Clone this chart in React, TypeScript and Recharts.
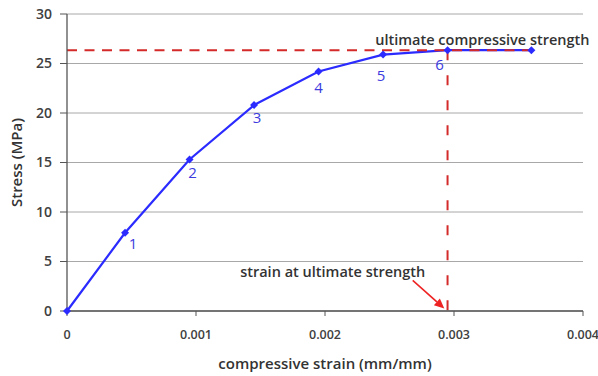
import React from 'react';
import { LineChart, Line, XAxis, YAxis, CartesianGrid, ReferenceLine, ReferenceDot, Label, LabelList } from 'recharts';

const strain = [0, 0.00045, 0.00095, 0.00145, 0.00195, 0.00245, 0.00295, 0.0036];
const stress = [0, 7.9, 15.3, 20.8, 24.2, 25.9, 26.35, 26.35];
const pointLabels = ['', '1', '2', '3', '4', '5', '6', ''];
const xTicks = [0, 0.001, 0.002, 0.003, 0.004];
const yTicks = [0, 5, 10, 15, 20, 25, 30];
const ultimateStress = 26.35;
const ultimateStrain = 0.00295;
const lastStrain = 0.0036;
const arrowFrom = { x: 0.00268, y: 3.1 };
const arrowTo = { x: 0.002925, y: 0.25 };
const topNote = { x: 0.00322, y: 27.45, text: 'ultimate compressive strength' };
const bottomNote = { x: 0.00206, y: 4.0, text: 'strain at ultimate strength' };

// styling: label offsets (px) per point
const labelOffsets = [[0, 0], [8, 10], [3, 12], [3, 12], [0, 16], [-2, 20], [-8, 14], [0, 0]];

const data = strain.map((s, i) => ({ strain: s, stress: stress[i], label: pointLabels[i] }));

const FONT = '"Open Sans", sans-serif';
const BLUE = '#2b2bff';
const RED = '#d42a2a';
const TEXT = '#404040';

const Diamond = (props: any) => {
  const { cx, cy } = props;
  if (cx == null || cy == null) return null;
  const r = 4;
  return <polygon points={`${cx},${cy - r} ${cx + r},${cy} ${cx},${cy + r} ${cx - r},${cy}`} fill={BLUE} />;
};

const PointLabel = (props: any) => {
  const { x, y, value, index } = props;
  if (!value) return null;
  const [dx, dy] = labelOffsets[index] || [0, 0];
  return (
    <text x={x + dx} y={y + dy} textAnchor="middle" dominantBaseline="central" fill="#3b3bde" fontSize={15} fontFamily={FONT}>
      {value}
    </text>
  );
};

const Arrow = (props: any) => {
  const { x1, y1, x2, y2 } = props;
  if ([x1, y1, x2, y2].some((v) => v == null)) return null;
  const ang = Math.atan2(y2 - y1, x2 - x1);
  const L = 10;
  const W = 4.5;
  const bx = x2 - L * Math.cos(ang);
  const by = y2 - L * Math.sin(ang);
  const px = -Math.sin(ang) * W;
  const py = Math.cos(ang) * W;
  return (
    <g>
      <line x1={x1} y1={y1} x2={bx} y2={by} stroke="#ee2222" strokeWidth={1.6} />
      <polygon points={`${x2},${y2} ${bx + px},${by + py} ${bx - px},${by - py}`} fill="#ee2222" />
    </g>
  );
};

const NoteText = (text: string) => (props: any) => {
  const vb = props.viewBox || {};
  const x = vb.x + (vb.width || 0) / 2;
  const y = vb.y + (vb.height || 0) / 2;
  return (
    <text x={x} y={y} textAnchor="middle" dominantBaseline="central" fill="#333" fontSize={14.5} fontWeight={600} fontFamily={FONT}>
      {text}
    </text>
  );
};

export default function App() {
  return (
    <div style={{ position: 'absolute', left: 0, top: 0, background: '#fff' }}>
      <LineChart width={598} height={376} data={data} margin={{ top: 14, right: 15, bottom: 35, left: 0 }}>
        <CartesianGrid horizontal vertical={false} stroke="#a8a8a8" strokeWidth={1} />
        <XAxis
          dataKey="strain"
          type="number"
          domain={[0, 0.004]}
          ticks={xTicks}
          tickFormatter={(v: number) => (v === 0 ? '0' : v.toFixed(3))}
          stroke="#555"
          tickSize={5}
          tickMargin={14}
          height={30}
          tick={{ fill: TEXT, fontSize: 12.5, fontFamily: FONT, fontWeight: 600 }}
          axisLine={{ stroke: '#555', strokeWidth: 1.3 }}
        >
          <Label value="compressive strain (mm/mm)" position="bottom" offset={17} fill="#333" fontSize={15} fontWeight={600} fontFamily={FONT} />
        </XAxis>
        <YAxis
          dataKey="stress"
          type="number"
          domain={[0, 30]}
          ticks={yTicks}
          stroke="#555"
          tickSize={7}
          tickMargin={8}
          width={67}
          tick={{ fill: TEXT, fontSize: 14, fontFamily: FONT, fontWeight: 600 }}
          axisLine={{ stroke: '#555', strokeWidth: 1.3 }}
        >
          <Label value="Stress (MPa)" angle={-90} position="insideLeft" offset={17} fill="#333" fontSize={15} fontWeight={600} fontFamily={FONT} style={{ textAnchor: 'middle' }} />
        </YAxis>
        <Line
          type="linear"
          dataKey="stress"
          stroke={BLUE}
          strokeWidth={2.2}
          dot={<Diamond />}
          activeDot={false}
          isAnimationActive={false}
        >
          <LabelList dataKey="label" content={<PointLabel />} />
        </Line>
        <ReferenceLine
          segment={[{ x: 0, y: ultimateStress }, { x: lastStrain, y: ultimateStress }]}
          stroke={RED}
          strokeWidth={2}
          strokeDasharray="10 7.5"
          ifOverflow="visible"
        />
        <ReferenceLine
          segment={[{ x: ultimateStrain, y: ultimateStress }, { x: ultimateStrain, y: 0 }]}
          stroke={RED}
          strokeWidth={2}
          strokeDasharray="10 15"
          ifOverflow="visible"
        />
        <ReferenceLine
          segment={[arrowFrom, arrowTo]}
          shape={<Arrow />}
          ifOverflow="visible"
        />
        <ReferenceDot x={topNote.x} y={topNote.y} r={0} fill="none" stroke="none" ifOverflow="visible">
          <Label content={NoteText(topNote.text)} />
        </ReferenceDot>
        <ReferenceDot x={bottomNote.x} y={bottomNote.y} r={0} fill="none" stroke="none" ifOverflow="visible">
          <Label content={NoteText(bottomNote.text)} />
        </ReferenceDot>
      </LineChart>
    </div>
  );
}
